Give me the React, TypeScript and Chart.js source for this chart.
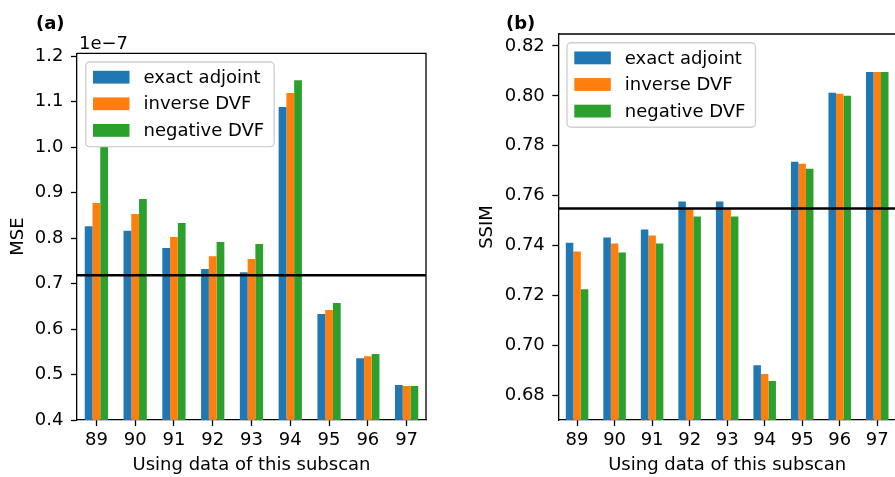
import React, { useEffect, useRef } from "react";
import { Chart, registerables } from "chart.js";

Chart.register(...registerables);

const SUBSCANS = ["89", "90", "91", "92", "93", "94", "95", "96", "97"];
const SERIES_NAMES = ["exact adjoint", "inverse DVF", "negative DVF"];
const SERIES_COLORS = ["#1f77b4", "#ff7f0e", "#2ca02c"];

// MSE values, in units of 1e-7
const MSE_EXACT = [0.826, 0.816, 0.778, 0.732, 0.725, 1.088, 0.633, 0.536, 0.477];
const MSE_INVERSE = [0.877, 0.853, 0.802, 0.760, 0.754, 1.119, 0.642, 0.540, 0.475];
const MSE_NEGATIVE = [1.0, 0.886, 0.833, 0.791, 0.787, 1.147, 0.657, 0.545, 0.475];
const MSE_REFERENCE = 0.718;
const MSE_TICKS = [0.4, 0.5, 0.6, 0.7, 0.8, 0.9, 1.0, 1.1, 1.2];
const MSE_MIN = 0.4;
const MSE_MAX = 1.206;

// SSIM values
const SSIM_EXACT = [0.7411, 0.7432, 0.7464, 0.7576, 0.7576, 0.692, 0.7736, 0.8012, 0.8096];
const SSIM_INVERSE = [0.7376, 0.7408, 0.744, 0.755, 0.755, 0.6884, 0.7728, 0.8008, 0.8096];
const SSIM_NEGATIVE = [0.7224, 0.7372, 0.7408, 0.7516, 0.7516, 0.6856, 0.7708, 0.8, 0.8096];
const SSIM_REFERENCE = 0.7548;
const SSIM_TICKS = [0.68, 0.7, 0.72, 0.74, 0.76, 0.78, 0.8, 0.82];
const SSIM_MIN = 0.67;
const SSIM_MAX = 0.8248;

const FONT = "'DejaVu Sans', 'Noto Sans', sans-serif";
const FS = 18;

type PanelCfg = {
  series: number[][];
  ref: number;
  ticks: number[];
  min: number;
  max: number;
  decimals: number;
  yTitle: string;
  yTitlePad: number;
  yAxisWidth: number;
  padTop: number;
  padRight: number;
  panelLabel: string;
  panelLabelX: number;
  offsetText?: string;
};

const decorPlugin = {
  id: "panelDecor",
  afterDatasetsDraw(chart: any, _args: any, opts: any) {
    const { ctx, chartArea: ca } = chart;
    const y = chart.scales.y.getPixelForValue(opts.ref);
    ctx.save();
    ctx.strokeStyle = "#000";
    ctx.lineWidth = 2.6;
    ctx.beginPath();
    ctx.moveTo(ca.left, y);
    ctx.lineTo(ca.right, y);
    ctx.stroke();
    // top and right spines
    ctx.lineWidth = 1.3;
    ctx.strokeStyle = "#000";
    ctx.beginPath();
    ctx.moveTo(ca.left, ca.top);
    ctx.lineTo(ca.right, ca.top);
    ctx.lineTo(ca.right, ca.bottom);
    ctx.stroke();
    ctx.restore();
  },
  afterDraw(chart: any, _args: any, opts: any) {
    const { ctx, chartArea: ca } = chart;
    ctx.save();
    // legend
    ctx.font = `${FS}px ${FONT}`;
    const textW = Math.max(...opts.names.map((n: string) => ctx.measureText(n).width));
    const x0 = ca.left + 8.7;
    const y0 = ca.top + 8.7;
    const handleW = 36.5;
    const w = 7.3 + handleW + 14 + textW + 10;
    const h = 84.6;
    ctx.beginPath();
    ctx.roundRect(x0, y0, w, h, 4);
    ctx.fillStyle = "rgba(255,255,255,0.92)";
    ctx.fill();
    ctx.strokeStyle = "#d0d0d0";
    ctx.lineWidth = 1.4;
    ctx.stroke();
    opts.names.forEach((name: string, i: number) => {
      const cy = y0 + 15.2 + i * 26.6;
      ctx.fillStyle = opts.colors[i];
      ctx.fillRect(x0 + 7.3, cy - 6.4, handleW, 12.8);
      ctx.fillStyle = "#000";
      ctx.textBaseline = "middle";
      ctx.textAlign = "left";
      ctx.fillText(name, x0 + 7.3 + handleW + 14, cy + 1);
    });
    // offset text
    if (opts.offsetText) {
      ctx.font = `${FS}px ${FONT}`;
      ctx.fillStyle = "#000";
      ctx.textBaseline = "alphabetic";
      ctx.textAlign = "left";
      ctx.fillText(opts.offsetText, ca.left + 2, ca.top - 4);
    }
    // panel label
    ctx.font = `bold ${FS}px ${FONT}`;
    ctx.fillStyle = "#000";
    ctx.textBaseline = "alphabetic";
    ctx.textAlign = "left";
    ctx.fillText(opts.label, opts.labelX, 29);
    ctx.restore();
  },
};

function Panel({ cfg, width }: { cfg: PanelCfg; width: number }) {
  const ref = useRef<HTMLCanvasElement | null>(null);
  useEffect(() => {
    if (!ref.current) return;
    const tickFont = { family: FONT, size: FS };
    const chart = new Chart(ref.current, {
      type: "bar",
      data: {
        labels: SUBSCANS,
        datasets: cfg.series.map((vals, i) => ({
          label: SERIES_NAMES[i],
          data: vals,
          backgroundColor: SERIES_COLORS[i],
          borderWidth: 0,
          categoryPercentage: 0.6,
          barPercentage: 1.0,
        })),
      },
      options: {
        responsive: false,
        animation: false,
        events: [],
        layout: { padding: { top: cfg.padTop, right: cfg.padRight, left: 0, bottom: 0 } },
        plugins: {
          legend: { display: false },
          tooltip: { enabled: false },
          panelDecor: {
            ref: cfg.ref,
            names: SERIES_NAMES,
            colors: SERIES_COLORS,
            label: cfg.panelLabel,
            labelX: cfg.panelLabelX,
            offsetText: cfg.offsetText,
          },
        } as any,
        scales: {
          x: {
            type: "category",
            offset: true,
            grid: {
              offset: false,
              drawOnChartArea: false,
              drawTicks: true,
              tickLength: 6,
              tickWidth: 1.3,
              tickColor: "#000",
            },
            border: { display: true, color: "#000", width: 1.3 },
            ticks: { font: tickFont, color: "#000", padding: 4, maxRotation: 0, autoSkip: false },
            title: {
              display: true,
              text: "Using data of this subscan",
              font: tickFont,
              color: "#000",
              padding: { top: 0, bottom: 1.2 },
            },
            afterFit: (s: any) => {
              s.height = 57;
            },
          },
          y: {
            type: "linear",
            min: cfg.min,
            max: cfg.max,
            grid: {
              drawOnChartArea: false,
              drawTicks: true,
              tickLength: 6,
              tickWidth: 1.3,
              tickColor: "#000",
            },
            border: { display: true, color: "#000", width: 1.3 },
            afterBuildTicks: (s: any) => {
              s.ticks = cfg.ticks.map((v) => ({ value: v }));
            },
            ticks: {
              font: tickFont,
              color: "#000",
              padding: 7.5,
              callback: (v: any) => Number(v).toFixed(cfg.decimals),
            },
            title: {
              display: true,
              text: cfg.yTitle,
              font: tickFont,
              color: "#000",
              padding: { top: cfg.yTitlePad, bottom: 0 },
            },
            afterFit: (s: any) => {
              s.width = cfg.yAxisWidth;
            },
          },
        },
      },
      plugins: [decorPlugin as any],
    });
    return () => chart.destroy();
  }, []);
  return (
    <canvas ref={ref} width={width} height={477} style={{ width: width + "px", height: "477px", display: "block" }} />
  );
}

const MSE_CFG: PanelCfg = {
  series: [MSE_EXACT, MSE_INVERSE, MSE_NEGATIVE],
  ref: MSE_REFERENCE,
  ticks: MSE_TICKS,
  min: MSE_MIN,
  max: MSE_MAX,
  decimals: 1,
  yTitle: "MSE",
  yTitlePad: 7.7,
  yAxisWidth: 77,
  padTop: 53.3,
  padRight: 19,
  panelLabel: "(a)",
  panelLabelX: 36,
  offsetText: "1e\u22127",
};

const SSIM_CFG: PanelCfg = {
  series: [SSIM_EXACT, SSIM_INVERSE, SSIM_NEGATIVE],
  ref: SSIM_REFERENCE,
  ticks: SSIM_TICKS,
  min: SSIM_MIN,
  max: SSIM_MAX,
  decimals: 2,
  yTitle: "SSIM",
  yTitlePad: 31.9,
  yAxisWidth: 113.3,
  padTop: 34,
  padRight: 0,
  panelLabel: "(b)",
  panelLabelX: 61,
};

export default function App() {
  return (
    <div
      style={{
        position: "fixed",
        left: 0,
        top: 0,
        width: 895,
        height: 477,
        overflow: "hidden",
        background: "#fff",
      }}
    >
      <div style={{ position: "absolute", left: 0, top: 0 }}>
        <Panel cfg={MSE_CFG} width={445} />
      </div>
      <div style={{ position: "absolute", left: 445, top: 0 }}>
        <Panel cfg={SSIM_CFG} width={451} />
      </div>
    </div>
  );
}
